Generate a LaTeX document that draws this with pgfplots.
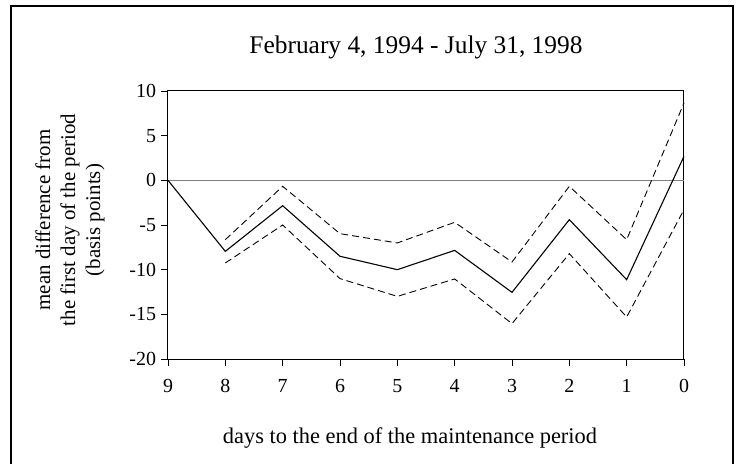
\documentclass[border=0pt]{standalone}
\usepackage{pgfplots}
\pgfplotsset{compat=1.18}
\usepackage{fontspec}
\setmainfont{Liberation Serif}
\begin{document}
\begin{tikzpicture}[x=1bp,y=1bp]
\useasboundingbox (0,0) rectangle (737,-464);
\draw[line width=1.2bp] (11,-464) -- (11,-6) -- (733,-6) -- (733,-464);
\begin{axis}[
  at={(168bp,-359bp)}, anchor=south west,
  scale only axis, width=516bp, height=268bp,
  xmin=0, xmax=9, ymin=-20, ymax=10,
  x dir=reverse,
  xtick={0,1,2,3,4,5,6,7,8,9},
  ytick={-20,-15,-10,-5,0,5,10},
  yticklabels={{-20},{-15},{-10},{-5},{0},{5},{10}},
  xticklabels={0,1,2,3,4,5,6,7,8,9},
  xtick pos=bottom, ytick pos=left,
  tick align=outside, major tick length=6.5bp,
  tick style={black, line width=0.8bp},
  axis line style={black, line width=1bp},
  ticklabel style={font=\fontsize{20}{20}\selectfont},
  xticklabel style={anchor=base, yshift=-27bp},
  yticklabel style={anchor=base east, yshift=-6.5bp, xshift=-2bp},
  clip=false,
]
\addplot[gray, line width=1.5bp] coordinates {(9,0) (0,0)};
\addplot[black, line width=1.1bp] coordinates {
(9,0) (8,-7.95) (7,-2.84) (6,-8.5) (5,-10.0) (4,-7.84) (3,-12.54) (2,-4.40) (1,-11.12) (0,2.69)};
\addplot[black, line width=0.9bp, dash pattern=on 7bp off 4bp] coordinates {
(8,-6.64) (7,-0.67) (6,-5.97) (5,-7.01) (4,-4.70) (3,-9.14) (2,-0.67) (1,-6.64) (0,8.66)};
\addplot[black, line width=0.9bp, dash pattern=on 7bp off 4bp] coordinates {
(8,-9.25) (7,-5.0) (6,-11.0) (5,-12.99) (4,-11.04) (3,-16.04) (2,-8.21) (1,-15.3) (0,-3.28)};
\end{axis}
\node[anchor=base, font=\fontsize{25.5}{25.5}\selectfont] at (416,-54) {February 4, 1994 - July 31, 1998};
\node[anchor=base, font=\fontsize{22.5}{22.5}\selectfont] at (410,-443) {days to the end of the maintenance period};
\node[rotate=90, align=center, font=\fontsize{21}{25}\selectfont] at (70,-220) {mean difference from\\the first day of the period\\(basis points)};
\end{tikzpicture}
\end{document}
